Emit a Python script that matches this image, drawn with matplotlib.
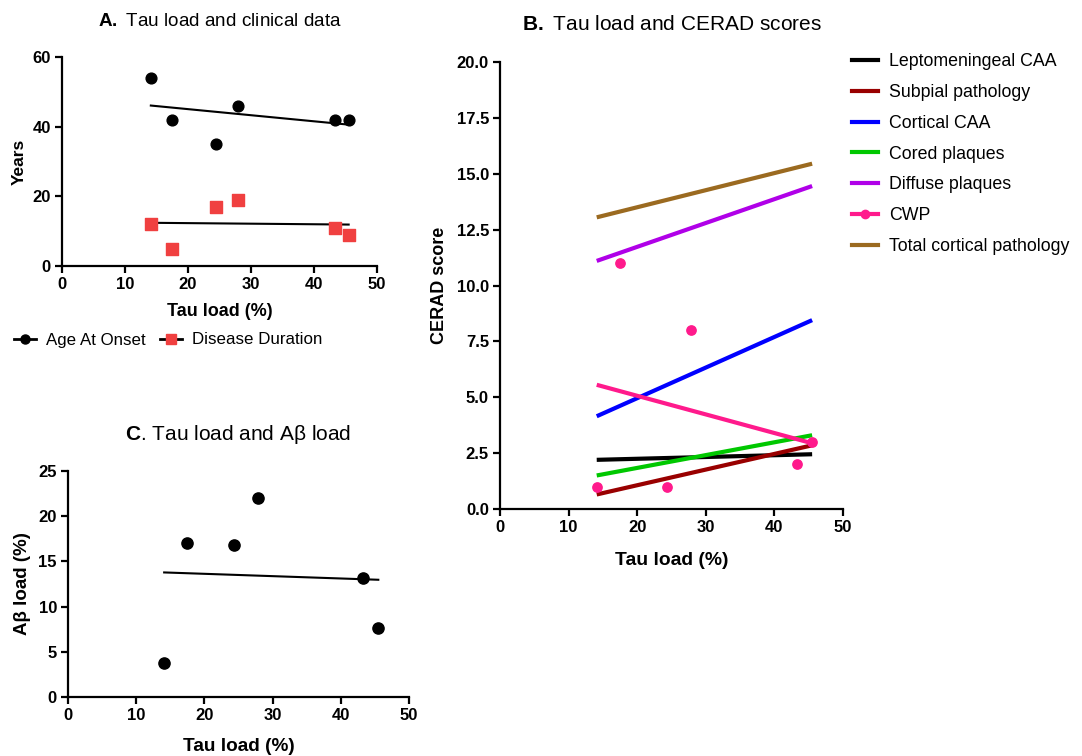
import numpy as np
import matplotlib
matplotlib.use("Agg")
import matplotlib.pyplot as plt
from matplotlib.lines import Line2D

plt.rcParams['font.family'] = ['Liberation Sans', 'DejaVu Sans']
plt.rcParams['mathtext.fontset'] = 'custom'
plt.rcParams['mathtext.rm'] = 'Liberation Sans'
plt.rcParams['mathtext.bf'] = 'Liberation Sans:bold'

# ---------------- data ----------------
tau_load = [14.1, 17.5, 24.4, 27.9, 43.3, 45.5]
age_at_onset = [54, 42, 35, 46, 42, 42]
disease_duration = [12, 5, 17, 19, 11, 9]
abeta_load = [3.8, 17.0, 16.8, 22.0, 13.2, 7.6]
cwp = [1, 11, 1, 8, 2, 3]

# CERAD regression line values at min / max tau load
cerad_names = ["Leptomeningeal CAA", "Subpial pathology", "Cortical CAA",
               "Cored plaques", "Diffuse plaques", "CWP", "Total cortical pathology"]
lepto_fit = [2.2, 2.45]
subpial_fit = [0.65, 2.85]
cortical_caa_fit = [4.15, 8.45]
cored_fit = [1.5, 3.3]
diffuse_fit = [11.1, 14.45]
total_fit = [13.05, 15.45]

cerad_colors = ["#000000", "#990000", "#0000FF", "#00C800", "#B000E8", "#FF1A8C", "#9B6A20"]

W, H = 1082, 756
fig = plt.figure(figsize=(W / 100, H / 100), dpi=100)


def ax_px(l, t, r, b):
    return fig.add_axes([l / W, 1 - b / H, (r - l) / W, (b - t) / H])


def style(ax, xlim, ylim, yticks, yfmt=None):
    ax.set_xlim(*xlim)
    ax.set_ylim(*ylim)
    ax.set_xticks(np.arange(0, 51, 10))
    ax.set_yticks(yticks)
    if yfmt:
        ax.set_yticklabels([yfmt.format(v) for v in yticks])
    for s in ['top', 'right']:
        ax.spines[s].set_visible(False)
    for s in ['left', 'bottom']:
        ax.spines[s].set_linewidth(1.6)
    ax.tick_params(width=1.6, length=5, labelsize=12, pad=3)
    for lab in ax.get_xticklabels() + ax.get_yticklabels():
        lab.set_fontweight('bold')


def fit_line(x, y):
    p = np.polyfit(x, y, 1)
    xs = np.array([min(x), max(x)])
    return xs, np.polyval(p, xs)


# ---------------- Panel A ----------------
axA = ax_px(62, 57, 377, 266)
style(axA, (0, 50), (0, 60), np.arange(0, 61, 20))
axA.scatter(tau_load, age_at_onset, s=60, color='black', zorder=3, clip_on=False)
axA.scatter(tau_load, disease_duration, s=65, marker='s', color='#F04040', zorder=3, clip_on=False)
xs, ys = fit_line(tau_load, age_at_onset)
axA.plot(xs, ys, color='black', lw=1.5)
xs, ys = fit_line(tau_load, disease_duration)
axA.plot(xs, ys, color='black', lw=1.5)
axA.set_xlabel("Tau load (%)", fontsize=13, fontweight='bold', labelpad=8)
axA.set_ylabel("Years", fontsize=12.5, fontweight='bold', labelpad=4)
fig.text(219.5 / W, 1 - 22 / H, r"$\bf{A.}$ Tau load and clinical data",
         ha='center', va='center', fontsize=13.6)
hA = [Line2D([], [], color='black', lw=2, marker='o', markersize=6.5),
      Line2D([], [], color='black', lw=2, marker='s', markersize=7.5,
             markerfacecolor='#F04040', markeredgecolor='#F04040')]
fig.legend(hA, ["Age At Onset", "Disease Duration"], loc='center left',
           bbox_to_anchor=(-1 / W, 1 - 340 / H), ncol=2, frameon=False,
           fontsize=12.2, handlelength=1.3, handletextpad=0.6, columnspacing=0.8)

# ---------------- Panel C ----------------
axC = ax_px(68, 471, 409, 697)
style(axC, (0, 50), (0, 25), np.arange(0, 26, 5))
axC.scatter(tau_load, abeta_load, s=65, color='black', zorder=3, clip_on=False)
xs, ys = fit_line(tau_load, abeta_load)
axC.plot(xs, ys, color='black', lw=1.5)
axC.set_xlabel("Tau load (%)", fontsize=13.7, fontweight='bold', labelpad=11)
axC.set_ylabel("Aβ load (%)", fontsize=13.5, fontweight='bold', labelpad=5)
fig.text(238.5 / W, 1 - 435 / H, r"$\bf{C}$. Tau load and Aβ load",
         ha='center', va='center', fontsize=15)

# ---------------- Panel B ----------------
axB = ax_px(500, 62, 843, 509)
style(axB, (0, 50), (0, 20), np.arange(0, 20.1, 2.5), yfmt="{:.1f}")
tx = [min(tau_load), max(tau_load)]
lw = 3.0
handles = []
for name, vals, col in zip(cerad_names,
                           [lepto_fit, subpial_fit, cortical_caa_fit, cored_fit,
                            diffuse_fit, None, total_fit], cerad_colors):
    if vals is None:
        axB.scatter(tau_load, cwp, s=45, color=col, zorder=3, clip_on=False)
        xs, ys = fit_line(tau_load, cwp)
        axB.plot(xs, ys, color=col, lw=lw, solid_capstyle='butt')
        handles.append(Line2D([], [], color=col, lw=lw, marker='o', markersize=6))
    else:
        axB.plot(tx, vals, color=col, lw=lw, solid_capstyle='butt')
        handles.append(Line2D([], [], color=col, lw=lw))
axB.set_xlabel("Tau load (%)", fontsize=13.9, fontweight='bold', labelpad=12)
axB.set_ylabel("CERAD score", fontsize=13, fontweight='bold', labelpad=6)
fig.text(671.5 / W, 1 - 25 / H, r"$\bf{B.}$ Tau load and CERAD scores",
         ha='center', va='center', fontsize=15)
fig.legend(handles, cerad_names, loc='upper left', bbox_to_anchor=(836 / W, 1 - 37 / H),
           frameon=False, fontsize=12.8, handlelength=1.45, handletextpad=0.62,
           labelspacing=0.78)

fig.savefig("out.png", dpi=100)
